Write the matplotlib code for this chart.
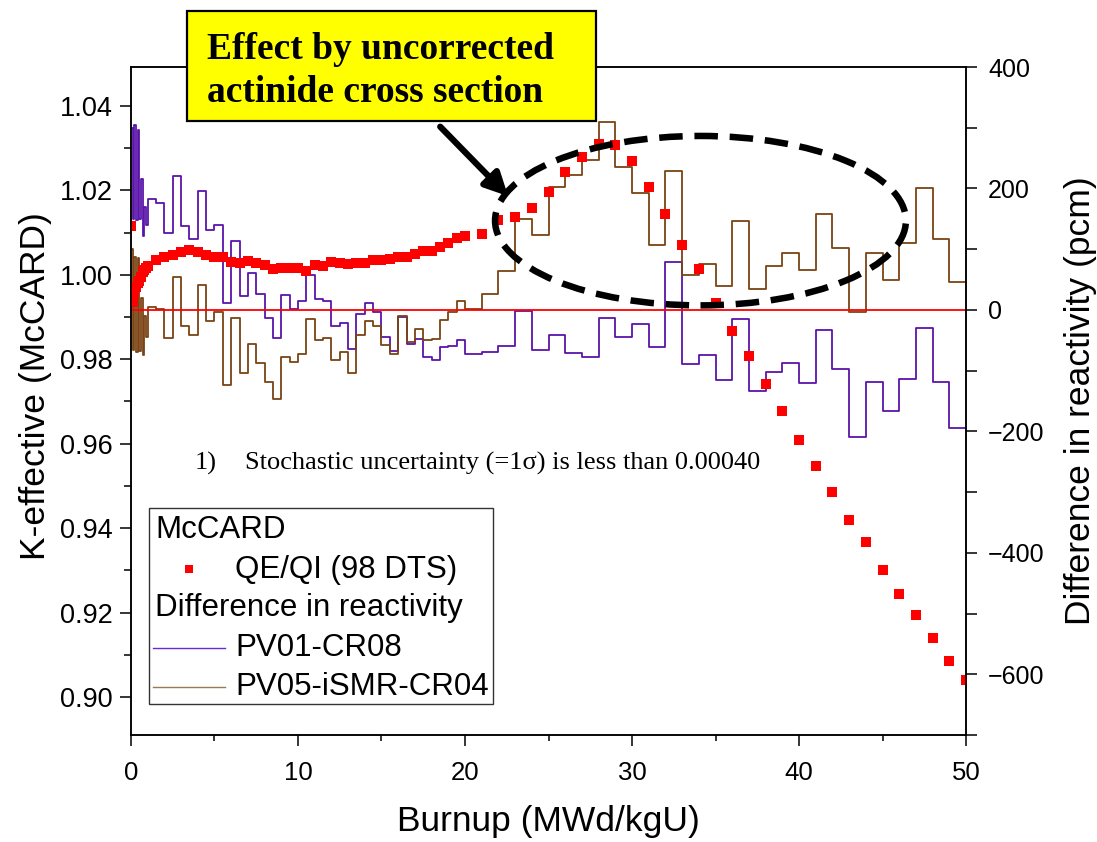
import numpy as np
import matplotlib
matplotlib.use("Agg")
import matplotlib.pyplot as plt
from matplotlib.patches import Ellipse, Rectangle
from matplotlib.lines import Line2D
from matplotlib.ticker import MultipleLocator, FormatStrFormatter

plt.rcParams['font.family'] = ['Liberation Sans', 'DejaVu Sans']

# burnup points (MWd/kgU)
burnup = [0, 0.1, 0.2, 0.3, 0.4, 0.5, 0.6, 0.7, 0.8, 0.9,
          1.0, 1.5, 2.0, 2.5, 3.0, 3.5, 4.0, 4.5, 5.0, 5.5,
          6.0, 6.5, 7.0, 7.5, 8.0, 8.5, 9.0, 9.5, 10.0, 10.5,
          11.0, 11.5, 12.0, 12.5, 13.0, 13.5, 14.0, 14.5, 15.0, 15.5,
          16.0, 16.5, 17.0, 17.5, 18.0, 18.5, 19.0, 19.5, 20.0,
          21, 22, 23, 24, 25, 26, 27, 28, 29, 30,
          31, 32, 33, 34, 35, 36, 37, 38, 39, 40,
          41, 42, 43, 44, 45, 46, 47, 48, 49, 50]

# McCARD k-effective, QE/QI (98 DTS)
keff = [1.0115, 0.9936, 0.9958, 0.9972, 0.9980, 0.9986, 0.9995, 1.0006, 1.0012, 1.0016,
        1.0020, 1.0036, 1.0043, 1.0047, 1.0053, 1.0059, 1.0055, 1.0046, 1.0041, 1.0043,
        1.0030, 1.0028, 1.0033, 1.0028, 1.0024, 1.0013, 1.0016, 1.0016, 1.0016, 1.0008,
        1.0022, 1.0020, 1.0030, 1.0028, 1.0026, 1.0028, 1.0029, 1.0034, 1.0036, 1.0038,
        1.0043, 1.0043, 1.0049, 1.0056, 1.0056, 1.0066, 1.0075, 1.0087, 1.0092,
        1.0097, 1.0130, 1.0137, 1.0159, 1.0197, 1.0244, 1.0280, 1.0310, 1.0308, 1.0270,
        1.0209, 1.0145, 1.0071, 1.0014, 0.9934, 0.9867, 0.9808, 0.9742, 0.9678, 0.9609,
        0.9547, 0.9486, 0.9419, 0.9367, 0.9301, 0.9244, 0.9194, 0.9140, 0.9085, 0.9040]

# difference in reactivity (pcm), one value per burnup interval
pv01_cr08 = [300, 150, 305, 148, 296, 150, 216, 122, 170, 140,
             183, 176, 126, 221, 138, 117, 196, 131, 140, 12,
             114, 23, 61, 26, -14, -46, 25, 1, 15, 58,
             18, 15, -26, -21, -64, -7, 11, -4, -44, -67,
             -11, -56, -48, -77, -82, -61, -59, -50,
             -72, -69, -59, -2, -66, -41, -71, -77, -14, -45,
             -23, -61, 79, -89, -74, -115, -15, -134, -102, -88,
             -120, -33, -97, -209, -119, -167, -113, -29, -119, -194]

pv05_ismr_cr04 = [100, -66, 87, -70, 85, -68, 20, -74, -10, -45,
                  5, 2, -46, 55, -26, -41, 41, -18, -3, -124,
                  -14, -103, -56, -87, -119, -146, -77, -86, -73, -15,
                  -50, -47, -82, -69, -104, -42, -18, -26, -57, -73,
                  -10, -52, -31, -50, -48, -16, -4, 14,
                  2, 27, 64, 149, 124, 203, 223, 247, 309, 235,
                  192, 107, 228, 57, 76, 40, 146, 34, 72, 93,
                  66, 158, 102, -3, 93, 50, 110, 200, 116, 46]

purple = '#5a14aa'
brown = '#7a4414'

fig = plt.figure(figsize=(10.97, 8.42), dpi=100)
ax = fig.add_axes([0.1194, 0.127, 0.7612, 0.7934])
ax2 = ax.twinx()

# step lines on the pcm axis
ax2.step(burnup, pv01_cr08 + [pv01_cr08[-1]], where='post', color=purple, lw=1.3)
ax2.step(burnup, pv05_ismr_cr04 + [pv05_ismr_cr04[-1]], where='post', color=brown, lw=1.3)
ax2.axhline(0, color='red', lw=1.3)

# k-eff markers on top
ax.set_zorder(ax2.get_zorder() + 1)
ax.patch.set_visible(False)
ax.plot(burnup, keff, 's', color='red', ms=6.5, mew=0, linestyle='none')

ax.set_xlim(0, 50)
ax.set_ylim(0.891, 1.0492)
ax2.set_ylim(-700, 400)

ax.xaxis.set_major_locator(MultipleLocator(10))
ax.xaxis.set_minor_locator(MultipleLocator(5))
ax.yaxis.set_major_locator(MultipleLocator(0.02))
ax.yaxis.set_minor_locator(MultipleLocator(0.01))
ax.yaxis.set_major_formatter(FormatStrFormatter('%.2f'))
ax2.yaxis.set_major_locator(MultipleLocator(200))
ax2.yaxis.set_minor_locator(MultipleLocator(100))

ax.tick_params(axis='both', which='major', direction='out', length=8, width=1.1)
ax.tick_params(axis='x', which='minor', direction='out', length=4, width=1.1)
ax.tick_params(axis='y', which='minor', direction='out', length=5, width=1.1)
ax.tick_params(axis='x', labelsize=18.5, pad=11)
ax.tick_params(axis='y', labelsize=19.5, pad=5)
ax2.tick_params(axis='y', which='both', direction='out', length=8, width=1.1, labelsize=18, pad=8)

for a in (ax, ax2):
    for s in a.spines.values():
        s.set_linewidth(1.1)

ax.set_xlabel('Burnup (MWd/kgU)', fontsize=25.5, labelpad=14)
ax.set_ylabel('K-effective (McCARD)', fontsize=25.5, labelpad=6)
ax.yaxis.label.set_y(0.522)
ax2.set_ylabel('Difference in reactivity (pcm)', fontsize=25.5, labelpad=14)

# dashed ellipse and arrow (pcm coordinates)
ell = Ellipse((34.1, 147), 24.6, 279, fill=False, ec='black', lw=4.7,
              linestyle=(0, (3.6, 1.8)), transform=ax2.transData, zorder=5)
ax.add_patch(ell)
ax.annotate('', xy=(22.7, 184), xycoords=ax2.transData,
            xytext=(18.4, 305), textcoords=ax2.transData,
            arrowprops=dict(arrowstyle='-|>', lw=4.5, color='black', mutation_scale=34),
            zorder=6)

# note text
serif = ['Liberation Serif', 'DejaVu Serif']
ax.text(0.0766, 0.407, '1)', transform=ax.transAxes, fontsize=19, family=serif, va='center')
ax.text(0.136, 0.407, 'Stochastic uncertainty (=1σ) is less than 0.00040',
        transform=ax.transAxes, fontsize=19, family=serif, va='center')

# legend drawn by hand
ax.add_patch(Rectangle((0.0216, 0.0464), 0.4119, 0.2934, transform=ax.transAxes,
                       fc='white', ec='#333333', lw=1.0, zorder=7))
leg_fs = 22.5
ax.text(0.0287, 0.3069, 'McCARD', transform=ax.transAxes, fontsize=leg_fs, va='center', zorder=8)
ax.add_line(Line2D([0.0695], [0.2485], marker='s', color='red', ms=6.0, mew=0,
                   linestyle='none', transform=ax.transAxes, zorder=8))
ax.text(0.1246, 0.247, 'QE/QI (98 DTS)', transform=ax.transAxes, fontsize=leg_fs, va='center', zorder=8)
ax.text(0.0287, 0.190, 'Difference in reactivity', transform=ax.transAxes, fontsize=leg_fs, va='center', zorder=8)
ax.add_line(Line2D([0.0263, 0.1126], [0.130, 0.130], color='#6a2ad0', lw=1.0,
                   transform=ax.transAxes, zorder=8))
ax.text(0.1246, 0.130, 'PV01-CR08', transform=ax.transAxes, fontsize=leg_fs, va='center', zorder=8)
ax.add_line(Line2D([0.0263, 0.1126], [0.0719, 0.0719], color='#9a7a50', lw=1.0,
                   transform=ax.transAxes, zorder=8))
ax.text(0.1246, 0.0719, 'PV05-iSMR-CR04', transform=ax.transAxes, fontsize=leg_fs, va='center', zorder=8)

# yellow call-out box
fig.add_artist(Rectangle((0.1705, 0.8563), 0.3728, 0.1306, transform=fig.transFigure,
                         fc='yellow', ec='black', lw=1.6, zorder=10))
fig.text(0.1887, 0.941, 'Effect by uncorrected', fontsize=27, fontweight='bold',
         family=serif, va='center', zorder=11)
fig.text(0.1887, 0.890, 'actinide cross section', fontsize=27, fontweight='bold',
         family=serif, va='center', zorder=11)

fig.savefig('out.png', dpi=100)
